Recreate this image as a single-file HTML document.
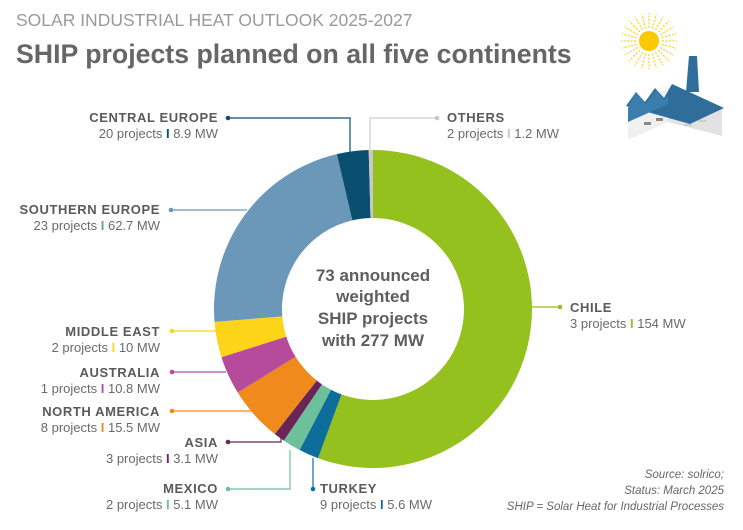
<!DOCTYPE html>
<html><head><meta charset="utf-8">
<style>
body{margin:0;background:#fff;}
svg{display:block;font-family:"Liberation Sans",Arial,sans-serif;}
.h{font-weight:bold;fill:#5a5a5a;font-size:13px;letter-spacing:0.6px}
.s{fill:#6a6a6a;font-size:13px}
</style></head>
<body>
<svg id="chart" width="743" height="530" viewBox="0 0 743 530">
<text x="16" y="26" font-size="17.5" fill="#9a9a9a">SOLAR INDUSTRIAL HEAT OUTLOOK 2025-2027</text>
<text x="16" y="63" font-size="26.7" font-weight="bold" fill="#666">SHIP projects planned on all five continents</text>
<g>
  <g stroke="#f7d21b" stroke-width="1.2" stroke-dasharray="2 1.5" id="rays"></g>
  <circle cx="649" cy="41" r="10" fill="#fcc800"/>
  <polygon points="628,108 668,88 668,122 628,140" fill="#f0f0f0"/>
  <polygon points="668,88 722,110 722,136 668,122" fill="#e2e2e2"/>
  <polygon points="626,106 636,92 645,102 655,88 664,98 672,84 724,108 690,124" fill="#2f6e9a"/>
  <polygon points="628,108 636,92 646,104 656,90 664,100 668,96 668,104 628,122" fill="#3a7eae"/>
  <polygon points="686,92 689,56 697,56 699,92" fill="#2f6e9a"/>
  <rect x="644" y="122" width="7" height="3" fill="#888"/><rect x="656" y="118" width="7" height="3" fill="#888"/>
  <rect x="684" y="124" width="8" height="2" fill="#ccc"/><rect x="698" y="120" width="8" height="2" fill="#ccc"/>
</g>
<g id="slices"></g>
<g id="labels"></g>
<g font-weight="bold" fill="#5e5e5e" font-size="17" text-anchor="middle">
<text x="373" y="281">73 announced</text><text x="373" y="302">weighted</text><text x="373" y="324">SHIP projects</text><text x="373" y="346">with 277 MW</text>
</g>
<g font-size="11.5" font-style="italic" fill="#666" text-anchor="end">
<text x="724" y="478">Source: solrico;</text><text x="724" y="494">Status: March 2025</text><text x="724" y="510">SHIP = Solar Heat for Industrial Processes</text>
</g>
</svg>
<script>
const categories=["CHILE","TURKEY","MEXICO","ASIA","NORTH AMERICA","AUSTRALIA","MIDDLE EAST","SOUTHERN EUROPE","CENTRAL EUROPE","OTHERS"];
const mwValues=[154,5.6,5.1,3.1,15.5,10.8,10,62.7,8.9,1.2];
const projectCounts=[3,9,2,3,8,1,2,23,20,2];
const mwLabels=["154","5.6","5.1","3.1","15.5","10.8","10","62.7","8.9","1.2"];
const colors=["#95c11f","#0d6f99","#6cc09a","#6b2457","#f18a1c","#b64b9c","#fdd418","#6b98b8","#0a4f70","#c8c8c8"];
const NS="http://www.w3.org/2000/svg";
const cx=373,cy=309,R=159,r=91;
function mk(t,a,p){const e=document.createElementNS(NS,t);for(const k in a)e.setAttribute(k,a[k]);p.appendChild(e);return e;}
function pt(ang,rad){return [cx+rad*Math.sin(ang),cy-rad*Math.cos(ang)];}
const total=mwValues.reduce((a,b)=>a+b,0);
const gs=document.getElementById('slices');
let a0=0;
mwValues.forEach((v,i)=>{
  const a1=a0+v/total*2*Math.PI;
  const [x1,y1]=pt(a0,R),[x2,y2]=pt(a1,R),[x3,y3]=pt(a1,r),[x4,y4]=pt(a0,r);
  const lg=(a1-a0)>Math.PI?1:0;
  const p=mk('path',{d:`M${x1},${y1}A${R},${R} 0 ${lg} 1 ${x2},${y2}L${x3},${y3}A${r},${r} 0 ${lg} 0 ${x4},${y4}Z`,fill:colors[i]},gs);
  
  
  a0=a1;
});
const layout=[
 [570,312,"start",560,307,"M560,307H532"],
 [320,493,"start",313,489,"M313,489V458"],
 [218,493,"end",228,489,"M228,489H290V450"],
 [218,447,"end",228,442,"M228,442H281V433"],
 [160,416,"end",172,411,"M172,411H252"],
 [160,377,"end",172,372,"M172,372H226"],
 [160,336,"end",172,331,"M172,331H217"],
 [160,214,"end",171,210,"M171,210H247"],
 [218,122,"end",228,118,"M228,118H350V153"],
 [447,122,"start",437,118,"M437,118H370V151"]
];
const gl=document.getElementById('labels');
categories.forEach((c,i)=>{
  const L=layout[i];
  const g=mk('g',{},gl);
  
  
  mk('path',{d:L[5],stroke:colors[i]==="#c8c8c8"?"#ccc":colors[i],fill:"none","stroke-width":1.2},g);
  mk('circle',{cx:L[3],cy:L[4],r:2.3,fill:colors[i]},g);
  const t=mk('text',{x:L[0],y:L[1],"text-anchor":L[2],class:"h"},g);t.textContent=c;
  const s=mk('text',{x:L[0],y:L[1]+16,"text-anchor":L[2],class:"s"},g);
  const t1=document.createElementNS(NS,'tspan');t1.textContent=projectCounts[i]+" projects ";s.appendChild(t1);
  const t2=document.createElementNS(NS,'tspan');t2.setAttribute('fill',colors[i]);t2.setAttribute('font-weight','bold');t2.textContent="I";s.appendChild(t2);
  const t3=document.createElementNS(NS,'tspan');t3.textContent=" "+mwLabels[i]+" MW";s.appendChild(t3);
});
const rays=document.getElementById('rays');
for(let k=0;k<24;k++){const a=k/24*2*Math.PI;mk('line',{x1:649+13*Math.cos(a),y1:41+13*Math.sin(a),x2:649+28*Math.cos(a),y2:41+28*Math.sin(a)},rays);}
</script>
</body></html>
